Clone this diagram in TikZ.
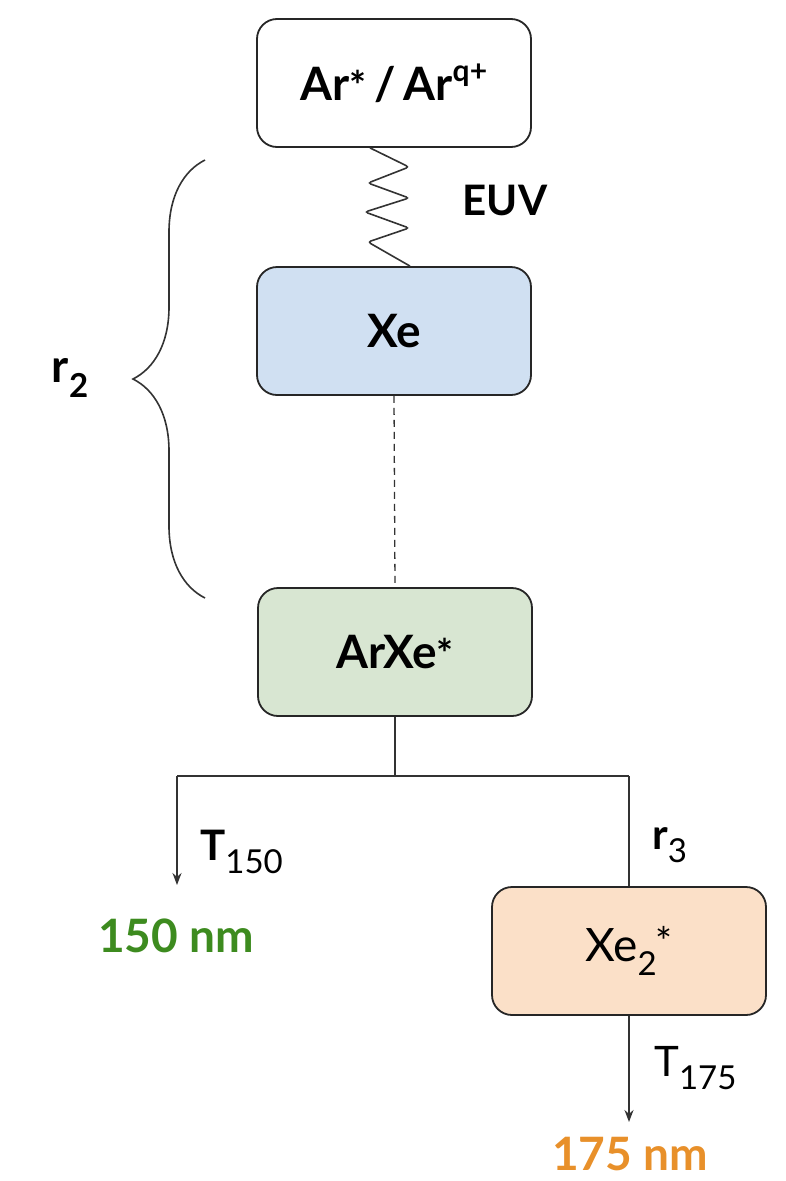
\documentclass[tikz,border=0pt]{standalone}
\usepackage{fontspec}
\setmainfont{Lato}
\usetikzlibrary{decorations.pathreplacing,arrows.meta}
\definecolor{xeblue}{HTML}{D0E0F2}
\definecolor{arxegreen}{HTML}{D8E6D2}
\definecolor{xetwo}{HTML}{FBE0C8}
\definecolor{nmgreen}{HTML}{3D8B1F}
\definecolor{nmorange}{HTML}{E8902A}
\newcommand{\bigtxt}{\fontsize{46}{54}\selectfont}
\newcommand{\midtxt}{\fontsize{42}{50}\selectfont}
\newcommand{\astx}{{\fontsize{40}{40}\selectfont *}}
\newcommand{\suptxt}[1]{\raisebox{0.42em}{\fontsize{30}{30}\selectfont #1}}
\newcommand{\subtxt}[1]{\raisebox{-0.32em}{\fontsize{33}{33}\selectfont #1}}
\tikzset{
  box/.style={draw=black!85, line width=1.8pt, rounded corners=20pt, minimum width=274pt, minimum height=128pt, inner sep=0pt, font=\bigtxt\bfseries},
  conn/.style={draw=black!80, line width=1.6pt},
  arr/.style={conn, -{Stealth[length=12pt,width=9pt]}},
  lbl/.style={font=\bigtxt\bfseries, inner sep=0pt}
}
\begin{document}
\begin{tikzpicture}[x=1pt,y=-1pt]
\useasboundingbox (0,0) rectangle (785,1181);
\node[box, fill=white] (top) at (394,83) {Ar\astx\,/\,Ar\suptxt{q+}};
\node[box, fill=xeblue] (xe) at (394,331) {Xe};
\node[box, fill=arxegreen] (arxe) at (395,652) {ArXe\astx};
\node[box, fill=xetwo, font=\bigtxt\mdseries] (xe2) at (629,951) {Xe\subtxt{2}\kern-1pt\raisebox{0.1em}{\astx}};
% EUV zigzag
\draw[conn, rounded corners=3pt] ([xshift=-24pt]top.south) -- (409,167) -- (368,183) -- (409,198) -- (365,212) -- (409,228) -- (368,242) -- ([xshift=16pt]xe.north);
\node[lbl, font=\midtxt\bfseries] (euv) at (505,200) {EUV};
% dashed link
\draw[conn, dashed, line width=1.3pt, dash pattern=on 7pt off 5pt] (xe.south) -- (arxe.north);
% brace
\draw[conn, decorate, decoration={brace, amplitude=72pt}] (205,598) -- (205,160);
\node[lbl] (r2) at (70,378) {r\subtxt{\bfseries 2}};
% branching
\coordinate (split) at (arxe.south |- 0,776);
\coordinate (lcorner) at (177,776);
\coordinate (rcorner) at (xe2.north |- 0,776);
\coordinate (lend) at (177,885);
\draw[conn] (arxe.south) -- (split);
\draw[conn] (lcorner) -- (rcorner);
\draw[arr] (lcorner) -- (lend);
\draw[conn] (rcorner) -- (xe2.north);
\node[lbl, anchor=west, font=\midtxt\bfseries] (t150) at (200,852) {T\subtxt{\mdseries 150}};
\node[lbl, text=nmgreen, anchor=base] (nm150) at (176,952) {150 nm};
\node[lbl, anchor=west, font=\midtxt\bfseries] (r3) at (652,845) {r\subtxt{\mdseries 3}};
\coordinate (rend) at (xe2.south |- 0,1122);
\draw[arr] (xe2.south) -- (rend);
\node[lbl, anchor=west, font=\midtxt] (t175) at (654,1068) {T\subtxt{175}};
\node[lbl, text=nmorange, anchor=base] (nm175) at (630,1170) {175 nm};
\end{tikzpicture}
\end{document}
